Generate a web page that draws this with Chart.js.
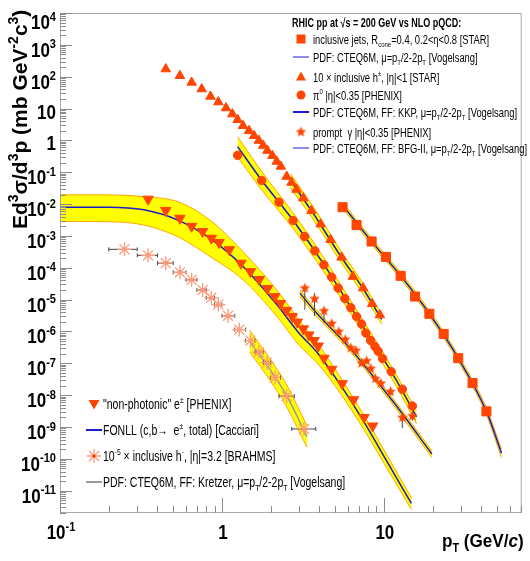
<!DOCTYPE html>
<html>
<head>
<meta charset="utf-8">
<script src="https://cdn.jsdelivr.net/npm/chart.js@4.4.1/dist/chart.umd.min.js"></script>
<style>
  html, body { margin: 0; padding: 0; background: #fff; }
  canvas { display: block; }
</style>
</head>
<body>
<canvas id="xsecChart" width="530" height="561"></canvas>
<script>
/* ===============================
   DATA
================================ */

// STAR inclusive jets
const jetPt  = [5.56, 6.78, 8.40, 10.3, 12.7, 15.6, 19.1, 23.4, 28.8, 35.3, 43.0];
const jetVal = [8.0e-3, 2.2e-3, 6.7e-4, 2.2e-4, 5.6e-5, 1.25e-5, 3.6e-6, 8.4e-7, 1.45e-7, 2.4e-8, 3.1e-9];
const jetThPt  = [5.74, 8.4, 12.7, 19.1, 28.8, 43.0, 53.3];
const jetThMid = [7.5e-3, 6.7e-4, 5.6e-5, 3.6e-6, 1.45e-7, 3.1e-9, 1.5e-10];
const jetThLo  = [6.0e-3, 5.4e-4, 4.5e-5, 2.9e-6, 1.15e-7, 2.4e-9, 1.1e-10];
const jetThHi  = [9.3e-3, 8.3e-4, 7.0e-5, 4.5e-6, 1.8e-7, 4.0e-9, 2.0e-10];

// STAR 10 x inclusive h+-
const hPt  = [0.45, 0.55, 0.65, 0.75, 0.85, 0.95, 1.06, 1.16, 1.25, 1.35, 1.47, 1.58, 1.69, 1.80, 1.91,
              2.05, 2.18, 2.31, 2.51, 2.69, 2.89, 3.18, 3.57, 4.07, 4.69, 5.48, 6.44, 7.45, 8.47, 9.45];
const hVal = [174, 107, 66, 41, 24, 16, 10.4, 6.7, 4.45, 2.88, 2.0, 1.40, 0.99, 0.69, 0.48,
              0.33, 0.218, 0.152, 0.0735, 0.0476, 0.0287, 0.0154, 6.2e-3, 2.35e-3, 7.6e-4, 2.13e-4, 5.3e-5, 2.3e-5, 7.4e-6, 3.3e-6];
const hThPt  = [2.65, 3.57, 5.48, 7.45, 9.7];
const hThMid = [0.055, 6.2e-3, 2.1e-4, 2.2e-5, 2.4e-6];
const hThLo  = [0.032, 4.0e-3, 1.4e-4, 1.5e-5, 1.7e-6];
const hThHi  = [0.09, 0.010, 3.2e-4, 3.2e-5, 3.4e-6];

// PHENIX pi0
const piPt  = [1.25, 1.76, 2.25, 2.75, 3.24, 3.75, 4.26, 4.76, 5.22, 5.74, 6.25, 6.78, 7.28, 7.74, 8.28, 8.80, 9.22, 9.82, 11.1, 13.0, 15.0];
const piVal = [0.34, 0.055, 0.0115, 3.05e-3, 9.6e-4, 3.4e-4, 1.24e-4, 5.1e-5, 2.3e-5, 1.08e-5, 5.6e-6, 2.94e-6,
               1.71e-6, 8.9e-7, 5.2e-7, 3.4e-7, 2.4e-7, 1.41e-7, 5.5e-8, 1.54e-8, 4.6e-9];
const piThPt  = [1.25, 1.75, 2.75, 4.25, 6.25, 9.25, 12.0, 15.9];
const piThMid = [0.64, 0.058, 3.1e-3, 1.3e-4, 5.8e-6, 2.5e-7, 2.8e-8, 2.1e-9];
const piThLo  = [0.30, 0.029, 1.7e-3, 7.6e-5, 3.6e-6, 1.6e-7, 1.8e-8, 1.3e-9];
const piThHi  = [1.3, 0.11, 5.3e-3, 2.1e-4, 9.0e-6, 3.8e-7, 4.2e-8, 3.2e-9];

// PHENIX prompt photons (with error bar ends)
const gPt  = [3.25, 3.73, 4.27, 4.76, 5.27, 5.78, 6.25, 6.72, 7.28, 7.82, 8.31, 8.86, 9.58, 11.0, 13.0, 15.0];
const gVal = [2.29e-5, 1.06e-5, 4.4e-6, 1.77e-6, 9.9e-7, 5.6e-7, 3.05e-7, 2.5e-7, 1.01e-7, 1.19e-7, 6.8e-8, 3.3e-8, 2.34e-8, 1.29e-8, 1.97e-9, 2.23e-9];
const gErrHi = [2.6e-5, 1.63e-5, 5.5e-6, 2.1e-6, 1.15e-6, 6.5e-7, 3.5e-7, 2.9e-7, 1.2e-7, 1.4e-7, 8.0e-8, 4.0e-8, 2.9e-8, 1.6e-8, 2.8e-9, 3.0e-9];
const gErrLo = [4.8e-6, 3.1e-6, 1.86e-6, 1.45e-6, 8.2e-7, 4.7e-7, 2.6e-7, 2.1e-7, 8.3e-8, 1.0e-7, 5.6e-8, 2.6e-8, 1.8e-8, 1.0e-8, 9.3e-10, 1.6e-9];
const gThPt  = [3.03, 3.84, 6.17, 11.4, 19.8];
const gThMid = [1.6e-5, 3.8e-6, 3.0e-7, 6.3e-9, 1.43e-10];
const gThLo  = [1.26e-5, 3.0e-6, 2.4e-7, 5.0e-9, 1.1e-10];
const gThHi  = [2.0e-5, 4.7e-6, 3.7e-7, 7.8e-9, 1.8e-10];

// PHENIX non-photonic electrons
const ePt  = [0.35, 0.45, 0.55, 0.65, 0.76, 0.86, 0.96, 1.11, 1.31, 1.50, 1.70, 1.91, 2.12, 2.30, 2.51, 2.72, 2.92,
              3.18, 3.44, 3.71, 3.93, 4.27, 4.76, 5.53, 6.50, 7.55, 8.53];
const eVal = [0.0143, 6.3e-3, 3.6e-3, 2.0e-3, 1.38e-3, 8.5e-4, 6.2e-4, 3.7e-4, 1.40e-4, 7.6e-5, 4.3e-5, 2.24e-5, 1.25e-5,
              7.6e-6, 4.6e-6, 2.94e-6, 1.97e-6, 1.21e-6, 7.8e-7, 5.2e-7, 3.5e-7, 1.45e-7, 6.5e-8, 2.3e-8, 7.2e-9, 2.0e-9, 1.08e-9];
// FONLL (Cacciari)
const fonPt  = [0.1, 0.2, 0.33, 0.53, 0.84, 1.35, 2.18, 2.96, 3.93, 5.48, 7.63, 10.6, 14.8];
const fonMid = [8.0e-3, 8.0e-3, 6.6e-3, 3.2e-3, 8.5e-4, 1.1e-4, 7.0e-6, 9.5e-7, 2.0e-7, 1.85e-8, 1.3e-9, 7.3e-11, 4.0e-12];
const fonLo  = [2.85e-3, 2.8e-3, 2.2e-3, 9.6e-4, 2.3e-4, 4.2e-5, 3.0e-6, 4.0e-7, 9.5e-8, 1.0e-8, 7.5e-10, 4.5e-11, 2.6e-12];
const fonHi  = [1.96e-2, 1.95e-2, 1.7e-2, 1.2e-2, 3.2e-3, 3.2e-4, 2.0e-5, 2.5e-6, 4.0e-7, 3.2e-8, 2.1e-9, 1.15e-10, 6.0e-12];

// BRAHMS 1e-5 x inclusive h- (with pT bin edges)
const bPt  = [0.25, 0.35, 0.45, 0.55, 0.65, 0.76, 0.86, 0.95, 1.09, 1.28, 1.50, 1.69, 1.90, 2.13, 2.51, 3.21];
const bVal = [3.8e-4, 2.46e-4, 1.40e-4, 7.2e-5, 4.2e-5, 2.0e-5, 1.15e-5, 7.0e-6, 3.1e-6, 1.15e-6, 5.2e-7, 2.25e-7, 1.05e-7, 3.6e-8, 9.3e-9, 8.7e-10];
const bXLo = [0.20, 0.30, 0.40, 0.50, 0.60, 0.70, 0.80, 0.90, 1.0, 1.2, 1.4, 1.6, 1.8, 2.0, 2.25, 2.7];
const bXHi = [0.30, 0.40, 0.50, 0.60, 0.70, 0.80, 0.90, 1.0, 1.2, 1.4, 1.6, 1.8, 2.0, 2.3, 2.8, 3.8];
const kThPt  = [1.48, 2.0, 2.5, 3.35];
const kThMid = [5.0e-7, 6.0e-8, 1.0e-8, 5.0e-10];
const kThLo  = [2.3e-7, 2.7e-8, 4.5e-9, 2.3e-10];
const kThHi  = [1.1e-6, 1.3e-7, 2.2e-8, 1.1e-9];

/* ===============================
   STYLE
================================ */
const RED = "#ff4600";
const YELLOW = "#ffff00";
const BAND_EDGE = "#ffa500";
const BLUE = "#1c1ccc";
const GREY_LINE = "#9a9a9a";
const AST = "#ff9a7a";
const FONT = '"Liberation Sans", Arial, sans-serif';

const pts = (xs, ys) => xs.map((x, i) => ({ x, y: ys[i] }));

function band(xs, lo, hi, mid, lineColor) {
  const common = { pointRadius: 0, showLine: true, cubicInterpolationMode: "monotone" };
  return [
    { ...common, data: pts(xs, lo), borderColor: BAND_EDGE, borderWidth: 1, fill: false, order: 3 },
    { ...common, data: pts(xs, hi), borderColor: BAND_EDGE, borderWidth: 1, fill: "-1", backgroundColor: YELLOW, order: 3 },
    { ...common, data: pts(xs, mid), borderColor: lineColor, borderWidth: 1.5, fill: false, order: 2 },
  ];
}

// filled 5-point star used as a point style
function starImage(r, color) {
  const c = document.createElement("canvas");
  const s = Math.ceil(r * 2 + 2);
  c.width = c.height = s;
  const g = c.getContext("2d");
  g.fillStyle = color;
  g.beginPath();
  for (let i = 0; i < 10; i++) {
    const rr = i % 2 ? r * 0.45 : r;
    const a = -Math.PI / 2 + (i * Math.PI) / 5;
    g.lineTo(s / 2 + rr * Math.cos(a), s / 2 + rr * Math.sin(a));
  }
  g.closePath();
  g.fill();
  return c;
}
const STAR_IMG = starImage(5.5, RED);

function markers(xs, ys, extra) {
  return Object.assign({
    data: pts(xs, ys), showLine: false, order: 1,
    pointBackgroundColor: RED, pointBorderColor: RED, pointBorderWidth: 1,
  }, extra);
}

/* ===============================
   TEXT HELPERS (super/subscripts)
================================ */
function fontFor(m, size, weight) {
  const s = m === "sup" || m === "sub" ? Math.round(size * 0.65) : size;
  const style = m === "it" ? "italic " : "";
  return style + weight + " " + s + "px " + FONT;
}

function drawRich(ctx, segs, x, y, size, opts) {
  opts = opts || {};
  const weight = opts.bold ? "bold" : "normal";
  ctx.save();
  ctx.translate(x, y);
  if (opts.rotate) ctx.rotate(opts.rotate);
  ctx.scale(opts.sx || 1, 1);
  ctx.textAlign = "left";
  ctx.textBaseline = "alphabetic";
  ctx.fillStyle = opts.color || "#000";
  let w = 0;
  for (const [t, m] of segs) { ctx.font = fontFor(m, size, weight); w += ctx.measureText(t).width; }
  let cx = opts.align === "right" ? -w : opts.align === "center" ? -w / 2 : 0;
  for (const [t, m] of segs) {
    ctx.font = fontFor(m, size, weight);
    const dy = m === "sup" ? -size * 0.42 : m === "sub" ? size * 0.28 : 0;
    ctx.fillText(t, cx, dy);
    cx += ctx.measureText(t).width;
  }
  ctx.restore();
}

function powLabel(v) {
  const e = Math.round(Math.log10(v));
  if (e === 0) return [["1", "n"]];
  if (e === 1) return [["10", "n"]];
  return [["10", "n"], [String(e), "sup"]];
}

function mantissa(v) {
  return v / Math.pow(10, Math.floor(Math.log10(v) + 1e-9));
}

/* ===============================
   PLUGINS
================================ */
const errorBars = {
  id: "errorBars",
  beforeDatasetDraw(chart, args) {
    const ds = chart.data.datasets[args.index];
    if (!ds.errY && !ds.errX) return;
    const { ctx, scales: { x, y } } = chart;
    ctx.save();
    ctx.strokeStyle = "#444";
    ctx.lineWidth = 1;
    ds.data.forEach((p, i) => {
      const px = x.getPixelForValue(p.x), py = y.getPixelForValue(p.y);
      ctx.beginPath();
      if (ds.errY) {
        ctx.moveTo(px, y.getPixelForValue(ds.errY[0][i]));
        ctx.lineTo(px, y.getPixelForValue(ds.errY[1][i]));
      }
      if (ds.errX) {
        const x1 = x.getPixelForValue(ds.errX[0][i]), x2 = x.getPixelForValue(ds.errX[1][i]);
        ctx.moveTo(x1, py); ctx.lineTo(x2, py);
        ctx.moveTo(x1, py - 2); ctx.lineTo(x1, py + 2);
        ctx.moveTo(x2, py - 2); ctx.lineTo(x2, py + 2);
      }
      ctx.stroke();
    });
    ctx.restore();
  },
};

const axisDecor = {
  id: "axisDecor",
  afterDraw(chart) {
    const { ctx, chartArea: a, scales: { x, y } } = chart;
    ctx.save();
    // frame
    ctx.strokeStyle = "#a8a8a8";
    ctx.lineWidth = 1;
    ctx.strokeRect(a.left + 0.5, a.top + 0.5, a.right - a.left - 1, a.bottom - a.top - 1);

    // ticks inside the frame
    ctx.strokeStyle = "#8c8c8c";
    ctx.beginPath();
    y.ticks.forEach((t) => {
      const m = mantissa(t.value);
      if (Math.abs(m - Math.round(m)) > 0.02) return;
      const py = Math.round(y.getPixelForValue(t.value)) + 0.5;
      const len = Math.round(m) === 1 || Math.round(m) === 10 ? 12 : 6;
      ctx.moveTo(a.left, py); ctx.lineTo(a.left + len, py);
    });
    x.ticks.forEach((t) => {
      const m = mantissa(t.value);
      if (Math.abs(m - Math.round(m)) > 0.02) return;
      const px = Math.round(x.getPixelForValue(t.value)) + 0.5;
      const len = Math.round(m) === 1 || Math.round(m) === 10 ? 15 : 7;
      ctx.moveTo(px, a.bottom); ctx.lineTo(px, a.bottom - len);
    });
    ctx.stroke();

    // tick labels (decades only)
    y.ticks.forEach((t) => {
      const m = mantissa(t.value);
      if (Math.abs(m - 1) > 0.02 && Math.abs(m - 10) > 0.02) return;
      const py = y.getPixelForValue(t.value);
      const segs = powLabel(t.value);
      const base = segs.length > 1 ? Math.max(py + 12, 29) : py + 10;
      drawRich(ctx, segs, 56, base, 20, { bold: true, sx: 0.85, align: "right" });
    });
    x.ticks.forEach((t) => {
      const m = mantissa(t.value);
      if (Math.abs(m - 1) > 0.02 && Math.abs(m - 10) > 0.02) return;
      const px = x.getPixelForValue(t.value);
      drawRich(ctx, powLabel(t.value), px + 1, 539, 20, { bold: true, sx: 0.85, align: "center" });
    });

    // axis titles
    drawRich(ctx, [["Ed", "n"], ["3", "sup"], ["σ/d", "n"], ["3", "sup"], ["p (mb GeV", "n"], ["-2", "sup"], ["c", "n"], ["3", "sup"], [")", "n"]],
      27, 229, 21, { bold: true, rotate: -Math.PI / 2 });
    drawRich(ctx, [["p", "n"], ["T", "sub"], [" (GeV/", "n"], ["c", "it"], [")", "n"]],
      442, 547, 19, { bold: true, sx: 0.9 });
    ctx.restore();
  },
};

// legend marker glyphs
function glyph(ctx, kind, x, y) {
  ctx.save();
  ctx.fillStyle = RED;
  ctx.strokeStyle = RED;
  ctx.beginPath();
  if (kind === "square") {
    ctx.fillRect(x - 4.5, y - 4.5, 9, 9);
  } else if (kind === "tri") {
    ctx.moveTo(x, y - 5.5); ctx.lineTo(x + 5, y + 3.5); ctx.lineTo(x - 5, y + 3.5); ctx.fill();
  } else if (kind === "dtri") {
    ctx.moveTo(x, y + 5.5); ctx.lineTo(x + 5.5, y - 4); ctx.lineTo(x - 5.5, y - 4); ctx.fill();
  } else if (kind === "circle") {
    ctx.arc(x, y, 4.5, 0, Math.PI * 2); ctx.fill();
  } else if (kind === "star") {
    ctx.drawImage(STAR_IMG, x - STAR_IMG.width / 2, y - STAR_IMG.height / 2);
  } else if (kind === "ast") {
    ctx.strokeStyle = AST; ctx.lineWidth = 1.3;
    for (let i = 0; i < 4; i++) {
      const a = (i * Math.PI) / 4;
      ctx.moveTo(x - 7 * Math.cos(a), y - 7 * Math.sin(a));
      ctx.lineTo(x + 7 * Math.cos(a), y + 7 * Math.sin(a));
    }
    ctx.stroke();
    ctx.beginPath(); ctx.fillStyle = "#e04000"; ctx.arc(x, y, 1.6, 0, Math.PI * 2); ctx.fill();
  } else {
    ctx.strokeStyle = kind.color; ctx.lineWidth = kind.width;
    ctx.moveTo(x - 8, y); ctx.lineTo(x + 8, y); ctx.stroke();
  }
  ctx.restore();
}

const PT = (pre, post) => [[pre, "n"], ["T", "sub"], ["/2-2p", "n"], ["T", "sub"], [post, "n"]];

const legendTop = [
  { g: "square", y: 39, segs: [["inclusive jets, R", "n"], ["cone", "sub"], ["=0.4, 0.2<η<0.8 [STAR]", "n"]] },
  { g: { color: BLUE, width: 1 }, y: 57, segs: PT("PDF: CTEQ6M, μ=p", " [Vogelsang]") },
  { g: "tri", y: 77, segs: [["10 × inclusive h", "n"], ["±", "sup"], [", |η|<1 [STAR]", "n"]] },
  { g: "circle", y: 95, segs: [["π", "n"], ["0", "sup"], [" |η|<0.35 [PHENIX]", "n"]] },
  { g: { color: BLUE, width: 2 }, y: 112, segs: PT("PDF: CTEQ6M, FF: KKP, μ=p", " [Vogelsang]") },
  { g: "star", y: 132, segs: [["prompt  γ |η|<0.35 [PHENIX]", "n"]] },
  { g: { color: BLUE, width: 1 }, y: 148, segs: PT("PDF: CTEQ6M, FF: BFG-II, μ=p", " [Vogelsang]") },
];
const legendBottom = [
  { g: "dtri", y: 404, segs: [["\"non-photonic\" e", "n"], ["±", "sup"], [" [PHENIX]", "n"]] },
  { g: { color: BLUE, width: 2 }, y: 430, segs: [["FONLL (c,b→  e", "n"], ["±", "sup"], [", total) [Cacciari]", "n"]] },
  { g: "ast", y: 456, segs: [["10", "n"], ["-5", "sup"], [" × inclusive h", "n"], ["-", "sup"], [", |η|=3.2 [BRAHMS]", "n"]] },
  { g: { color: GREY_LINE, width: 2 }, y: 482, segs: PT("PDF: CTEQ6M, FF: Kretzer, μ=p", " [Vogelsang]") },
];

const legendBoxes = {
  id: "legendBoxes",
  afterDraw(chart) {
    const ctx = chart.ctx;
    drawRich(ctx, [["RHIC pp at √s = 200 GeV vs NLO pQCD:", "n"]], 292, 27, 12.5, { bold: true, sx: 0.72 });
    legendTop.forEach((it) => {
      glyph(ctx, it.g, 301, it.y);
      drawRich(ctx, it.segs, 313, it.y + 4.5, 12.5, { sx: 0.75 });
    });
    legendBottom.forEach((it) => {
      glyph(ctx, it.g, 94, it.y);
      drawRich(ctx, it.segs, 103, it.y + 5, 14, { sx: 0.75 });
    });
  },
};

/* ===============================
   CHART
================================ */
const datasets = [
  ...band(fonPt, fonLo, fonHi, fonMid, BLUE),
  ...band(kThPt, kThLo, kThHi, kThMid, GREY_LINE),
  ...band(piThPt, piThLo, piThHi, piThMid, BLUE),
  ...band(hThPt, hThLo, hThHi, hThMid, BLUE),
  ...band(gThPt, gThLo, gThHi, gThMid, BLUE),
  ...band(jetThPt, jetThLo, jetThHi, jetThMid, BLUE),

  markers(ePt, eVal, { pointStyle: "triangle", pointRotation: 180, pointRadius: 6 }),
  markers(bPt, bVal, { pointStyle: "star", pointRadius: 7, pointBorderColor: AST, pointBorderWidth: 1.3, errX: [bXLo, bXHi] }),
  markers(bPt, bVal, { pointStyle: "circle", pointRadius: 1.6, pointBackgroundColor: "#e04000", pointBorderColor: "#e04000" }),
  markers(hPt, hVal, { pointStyle: "triangle", pointRadius: 5.5 }),
  markers(piPt, piVal, { pointStyle: "circle", pointRadius: 4.2 }),
  markers(gPt, gVal, { pointStyle: STAR_IMG, pointRadius: 5, errY: [gErrLo, gErrHi] }),
  markers(jetPt, jetVal, { pointStyle: "rect", pointRadius: 6.4 }),
];

const hiddenAxis = {
  type: "logarithmic",
  ticks: { display: false },
  grid: { display: false, drawTicks: false },
  border: { display: false },
};

new Chart(document.getElementById("xsecChart"), {
  type: "line",
  data: { datasets },
  options: {
    responsive: false,
    animation: false,
    layout: { padding: { left: 60, top: 13, right: 8, bottom: 48 } },
    plugins: {
      legend: { display: false },
      tooltip: { enabled: false },
    },
    scales: {
      x: { ...hiddenAxis, min: 0.1, max: 71 },
      y: { ...hiddenAxis, min: 2e-12, max: 1e4 },
    },
  },
  plugins: [errorBars, axisDecor, legendBoxes],
});
</script>
</body>
</html>
